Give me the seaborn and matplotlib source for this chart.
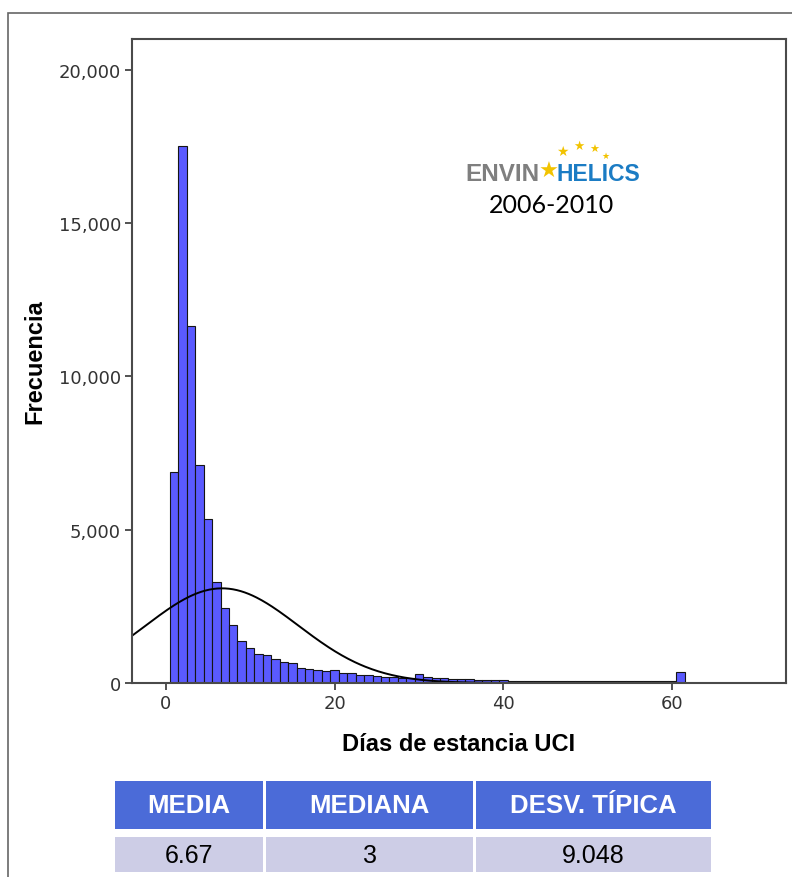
import numpy as np
import pandas as pd
import matplotlib
matplotlib.use('Agg')
import matplotlib.pyplot as plt
import seaborn as sns
from matplotlib.patches import Rectangle

# ---------------- data ----------------
days = list(range(1, 62))
counts = [6880, 17500, 11650, 7120, 5350, 3300, 2450, 1880, 1360, 1150,
          950, 900, 780, 670, 640, 490, 460, 420, 400, 420,
          320, 320, 265, 250, 230, 200, 190, 170, 150, 290,
          210, 175, 155, 135, 125, 115, 105, 100, 95, 100,
          75, 70, 68, 65, 66, 62, 60, 62, 58, 60,
          55, 57, 54, 56, 52, 54, 51, 53, 50, 52,
          360]
mean_val = 6.67
median_val = 3
sd_val = 9.048
x_ticks = [0, 20, 40, 60]
y_ticks = [0, 5000, 10000, 15000, 20000]
table_headers = ["MEDIA", "MEDIANA", "DESV. TÍPICA"]
table_values = ["6.67", "3", "9.048"]
logo_left = "ENVIN"
logo_right = "HELICS"
logo_years = "2006-2010"

# ---------------- style ----------------
sns.set_theme(style='white')
plt.rcParams['font.family'] = ['Liberation Sans', 'DejaVu Sans']

W, H = 792, 878
fig = plt.figure(figsize=(W / 100, H / 100), dpi=100)
fig.patch.set_facecolor('white')

def fx(px):
    return px / W

def fy(py):
    return 1 - py / H

# outer frame (cut at right / bottom)
fig.add_artist(Rectangle((fx(8), fy(900)), fx(800), fy(14) - fy(900),
                         transform=fig.transFigure, fill=False,
                         edgecolor='#666666', linewidth=1.2))

ax = fig.add_axes([fx(132), fy(684), (786 - 132) / W, (684 - 40) / H])

df = pd.DataFrame({'dias': days, 'n': counts})
sns.histplot(data=df, x='dias', weights='n', binwidth=1, binrange=(0.5, 61.5),
             color='#5a5aff', edgecolor='#151515', linewidth=0.8, alpha=1,
             ax=ax)

# normal curve overlay
total = float(np.sum(counts))
xs = np.linspace(-4, 73.5, 500)
ys = total * 1.0 / (sd_val * np.sqrt(2 * np.pi)) * np.exp(-0.5 * ((xs - mean_val) / sd_val) ** 2)
sns.lineplot(x=xs, y=ys, color='black', linewidth=1.4, ax=ax)

ax.set_xlim(-4, 73.5)
ax.set_ylim(0, 21000)
ax.set_xticks(x_ticks)
ax.set_yticks(y_ticks)
ax.set_xticklabels([str(v) for v in x_ticks])
ax.set_yticklabels([f"{v:,}" for v in y_ticks])
for lab in ax.get_xticklabels() + ax.get_yticklabels():
    lab.set_fontfamily('DejaVu Sans')
    lab.set_fontsize(13)
    lab.set_color('#333333')
ax.tick_params(axis='both', which='major', direction='out', length=5,
               width=1.3, color='#444444', bottom=True, left=True, pad=3)
for s in ax.spines.values():
    s.set_color('#4a4a4a')
    s.set_linewidth(1.5)

ax.set_xlabel('Días de estancia UCI', fontsize=17, fontweight='bold', color='black')
ax.set_ylabel('Frecuencia', fontsize=17, fontweight='bold', color='black')
ax.xaxis.set_label_coords(0.5, -0.076)
ax.yaxis.set_label_coords(-0.131, 0.5)

# ---------------- logo ----------------
fig.text(fx(465), fy(181), logo_left, color='#7f7f7f', fontsize=17.5,
         fontweight='bold', ha='left', va='baseline')
fig.text(fx(557), fy(181), logo_right, color='#1b7cc4', fontsize=16.5,
         fontweight='bold', ha='left', va='baseline')
star_specs = [(549, 172, 16), (562, 152, 10), (579, 146, 9), (594, 150, 8), (605, 156, 6.5)]
for sx, sy, ss in star_specs:
    fig.text(fx(sx), fy(sy), '★', color='#f2c300', fontsize=ss,
             ha='center', va='center', family='DejaVu Sans')
fig.text(fx(551), fy(213), logo_years, color='black', fontsize=18,
         ha='center', va='baseline', family='Lato')

# ---------------- table ----------------
cols = [(115, 263), (266, 473), (476, 711)]
for (x0, x1), head, val in zip(cols, table_headers, table_values):
    fig.add_artist(Rectangle((fx(x0), fy(830)), fx(x1 - x0), fy(782) - fy(830),
                             transform=fig.transFigure, facecolor='#4b6bd8',
                             edgecolor='none'))
    fig.add_artist(Rectangle((fx(x0), fy(873)), fx(x1 - x0), fy(838) - fy(873),
                             transform=fig.transFigure, facecolor='#cdcde6',
                             edgecolor='none'))
    cx = fx((x0 + x1) / 2)
    fig.text(cx, fy(806), head, color='white', fontsize=18.5, fontweight='bold',
             ha='center', va='center')
    fig.text(cx, fy(856), val, color='black', fontsize=18,
             ha='center', va='center')

fig.savefig('out.png', dpi=100, facecolor='white')
